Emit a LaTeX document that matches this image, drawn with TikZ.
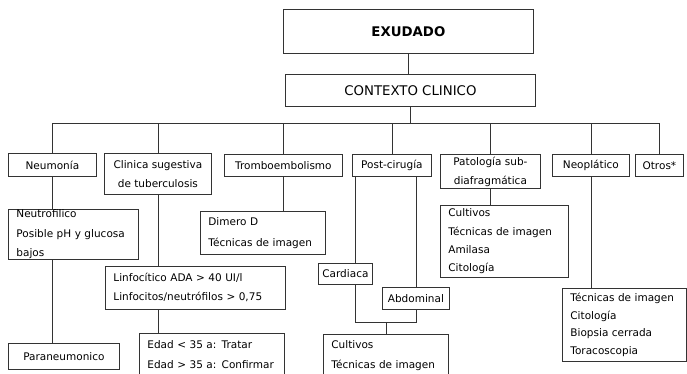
\documentclass[tikz,border=0pt]{standalone}
\usepackage{fontspec}
\setmainfont{DejaVu Sans}
\usetikzlibrary{positioning}

\begin{document}
\begin{tikzpicture}[
  x=1pt, y=-1pt,
  conn/.style={draw=black!80, line width=0.8pt},
  box/.style={rectangle, draw=black!80, line width=0.8pt, fill=white, text=black,
              anchor=north west, inner xsep=2pt, inner ysep=0pt, align=center,
              font=\fontsize{10.5}{19}\selectfont},
  lst/.style={box, align=left, inner xsep=8pt},
  big/.style={box, font=\fontsize{13.3}{16}\selectfont},
  lead/.style={font=\fontsize{10.5}{#1}\selectfont},
]
\useasboundingbox (0,0) rectangle (687,374);
\fill[white] (0,0) rectangle (687,374);

%% ─── Exudado ─────────────────────────────────────────────────────────────────
\node[big, minimum width=250pt, minimum height=44pt] (exu) at (283,9) {\bfseries EXUDADO};
\node[big, minimum width=250pt, minimum height=32pt] (ctx) at (285,74) {CONTEXTO CLINICO};

%% ─── Contexto clinico ────────────────────────────────────────────────────────
\node[box, minimum width=88pt,  minimum height=23pt] (neum)   at (8,153)   {Neumonía};
\node[box, minimum width=107pt, minimum height=41pt] (tbc)    at (104,153) {Clinica sugestiva\\de tuberculosis};
\node[box, minimum width=118pt, minimum height=22pt] (trombo) at (224,154) {Tromboembolismo};
\node[box, minimum width=79pt,  minimum height=22pt] (post)   at (352,154) {Post-cirugía};
\node[box, minimum width=100pt, minimum height=34pt] (pato)   at (440,154) {Patología sub-\\diafragmática};
\node[box, minimum width=77pt,  minimum height=22pt] (neo)    at (552,154) {Neoplático};
\node[box, minimum width=48pt,  minimum height=22pt] (otros)  at (635,154) {Otros*};

%% ─── Hallazgos ───────────────────────────────────────────────────────────────
\node[lst, lead=19.5, text width=114pt, minimum height=50pt] (neut) at (8,209) {Neutrofilico\\Posible pH y glucosa\\bajos};
\node[box, minimum width=111pt, minimum height=26pt] (paran) at (8,343) {Paraneumonico};
\node[lst, lead=19,   text width=164pt, minimum height=43pt] (linf) at (105,266) {Linfocítico ADA > 40 UI/l\\Linfocitos/neutrófilos > 0,75};
\node[lst, lead=20,   text width=129pt, minimum height=42pt] (edad) at (139,333) {Edad < 35 a: Tratar\\Edad > 35 a: Confirmar};
\node[lst, lead=21,   text width=109pt, minimum height=43pt] (dim)  at (200,211) {Dimero D\\Técnicas de imagen};
\node[box, minimum width=54pt, minimum height=21pt] (card) at (318,263) {Cardiaca};
\node[box, minimum width=67pt, minimum height=22pt] (abd)  at (382,287) {Abdominal};
\node[lst, lead=20,   text width=109pt, minimum height=42pt] (cult) at (323,334) {Cultivos\\Técnicas de imagen};
\node[lst, lead=18.3, text width=112pt, minimum height=72pt] (psub) at (440,205) {Cultivos\\Técnicas de imagen\\Amilasa\\Citología};
\node[lst, lead=17.7, text width=108pt, minimum height=73pt] (nsub) at (562,288) {Técnicas de imagen\\Citología\\Biopsia cerrada\\Toracoscopia};

%% ─── Conectores ──────────────────────────────────────────────────────────────
\draw[conn] (exu.south) -- (exu.south |- ctx.north);
\coordinate (bar) at (410,123);
\draw[conn] (ctx.south) -- (ctx.south |- bar);
\draw[conn] (neum.north |- bar) -- (otros.north |- bar);
\foreach \n in {neum,tbc,trombo,post,pato,neo,otros}
  \draw[conn] (\n.north) -- (\n.north |- bar);

\draw[conn] (neum.south) -- (neum.south |- neut.north);
\draw[conn] (neum.south |- neut.south) -- (neum.south |- paran.north);
\draw[conn] (tbc.south) -- (tbc.south |- linf.north);
\draw[conn] (tbc.south |- linf.south) -- (tbc.south |- edad.north);
\draw[conn] (trombo.south) -- (trombo.south |- dim.north);

\draw[conn] ([xshift=10pt]card.north) -- ([xshift=10pt]card.north |- post.south);
\draw[conn] (abd.north) -- (abd.north |- post.south);
\coordinate (junta) at ([yshift=12pt]cult.north);
\draw[conn] ([xshift=10pt]card.south) |- (abd.south |- junta) -- (abd.south);
\draw[conn] (junta) -- (cult.north);

\draw[conn] (pato.south) -- (pato.south |- psub.north);
\draw[conn] (neo.south) -- (neo.south |- nsub.north);

\end{tikzpicture}
\end{document}
